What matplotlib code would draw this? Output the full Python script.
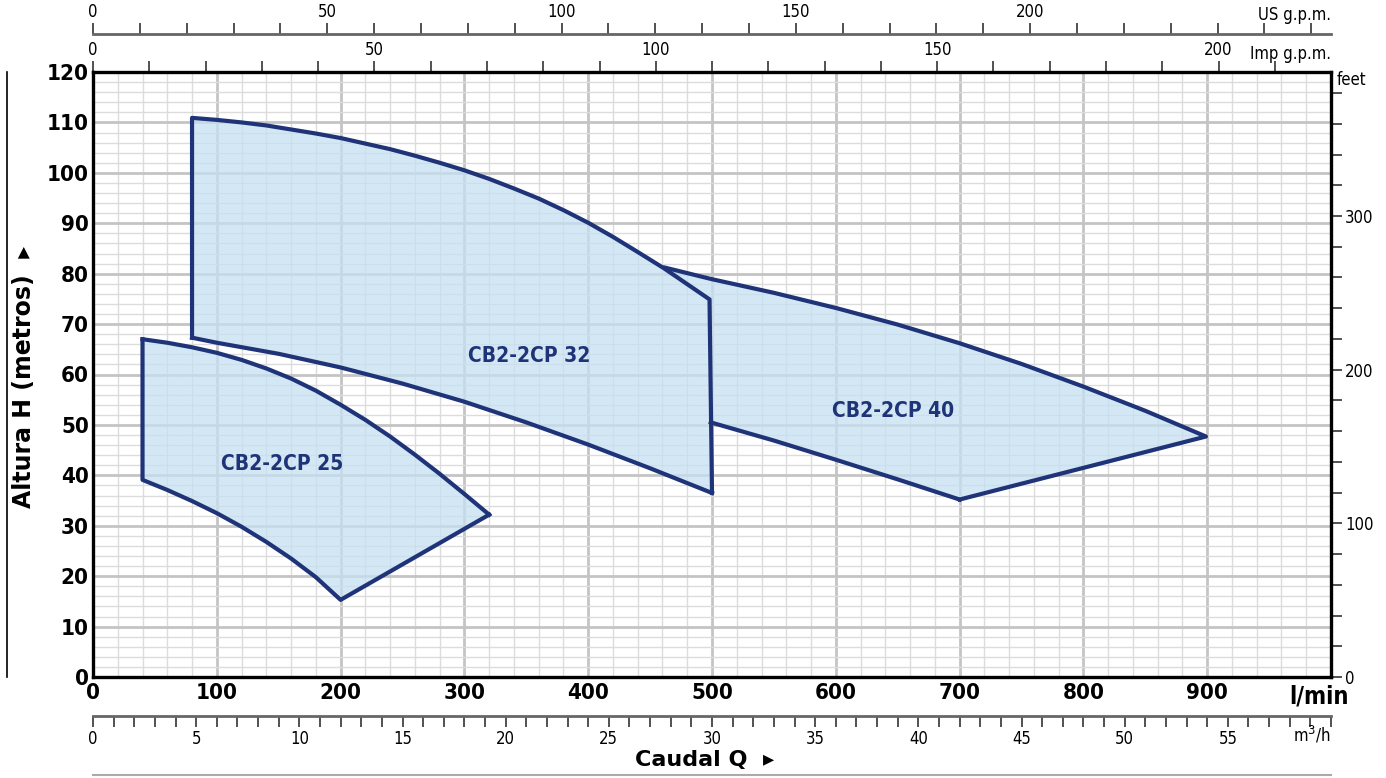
import matplotlib
matplotlib.use("Agg")
import matplotlib.pyplot as plt
import numpy as np

# curve data: flow in l/min, head in metres
cp25_top_q = [40, 60, 80, 100, 120, 140, 160, 180, 200, 220, 240, 260, 280, 300, 320]
cp25_top_h = [67.0, 66.3, 65.4, 64.3, 62.9, 61.2, 59.2, 56.8, 54.0, 51.0, 47.7,
              44.1, 40.3, 36.3, 32.2]
cp25_bot_q = [40, 60, 80, 100, 120, 140, 160, 180, 200]
cp25_bot_h = [39.1, 37.1, 34.9, 32.5, 29.8, 26.8, 23.5, 19.8, 15.3]

cp32_top_q = [80, 100, 120, 140, 160, 180, 200, 220, 240, 260, 280, 300, 320,
              340, 360, 380, 400, 420, 440, 461, 498]
cp32_top_h = [110.9, 110.5, 110.0, 109.4, 108.6, 107.8, 106.9, 105.8, 104.7,
              103.4, 102.0, 100.5, 98.8, 96.9, 94.9, 92.6, 90.1, 87.3, 84.3,
              81.1, 74.9]
cp32_bot_q = [80, 100, 150, 200, 250, 300, 350, 400, 450, 500]
cp32_bot_h = [67.3, 66.3, 64.1, 61.4, 58.2, 54.6, 50.5, 46.1, 41.4, 36.5]

cp40_top_q = [462, 500, 550, 600, 650, 700, 750, 800, 850, 899]
cp40_top_h = [81.2, 78.9, 76.2, 73.2, 69.9, 66.2, 62.1, 57.6, 52.8, 47.7]
cp40_bot_q = [499, 550, 600, 650, 700]
cp40_bot_h = [50.5, 46.9, 43.1, 39.2, 35.2]

labels = ["CB2-2CP 25", "CB2-2CP 32", "CB2-2CP 40"]
label_q = [153, 352, 646]
label_h = [42.2, 63.6, 52.8]

x_ticks = [0, 100, 200, 300, 400, 500, 600, 700, 800, 900]
y_ticks = [0, 10, 20, 30, 40, 50, 60, 70, 80, 90, 100, 110, 120]

US_GPM = 3.785
IMP_GPM = 4.546
M3H = 1000 / 60.0
FT = 0.3048

NAVY = "#1f3478"
FILL = "#c6e0f2"
NARROW = dict(family=["DejaVu Sans"], fontstretch="condensed")
BOLD = dict(family=["DejaVu Sans"], fontweight="bold")

W, H = 1386, 778
fig = plt.figure(figsize=(W / 100, H / 100), dpi=100)


def fx(px):
    return px / W


def fy(py):
    return 1 - py / H


L, R, T, B = 93, 1331, 72, 677
ax = fig.add_axes([fx(L), fy(B), fx(R) - fx(L), fy(T) - fy(B)])
ax.set_xlim(0, 1000)
ax.set_ylim(0, 120)

# grid
ax.set_xticks(np.arange(0, 1001, 100))
ax.set_xticks(np.arange(0, 1001, 20), minor=True)
ax.set_yticks(y_ticks)
ax.set_yticks(np.arange(0, 121, 2), minor=True)
ax.grid(which="minor", color="#dcdcdc", lw=1.0, zorder=0)
ax.grid(which="major", color="#c4c4c4", lw=2.0, zorder=0)
ax.set_axisbelow(True)
ax.tick_params(which="both", length=0)
ax.set_xticklabels([str(v) for v in x_ticks] + [""], fontsize=16,
                   fontweight="bold", **NARROW)
ax.set_yticklabels([str(v) for v in y_ticks], fontsize=16,
                   fontweight="bold", **NARROW)
ax.tick_params(axis="x", pad=4)
ax.tick_params(axis="y", pad=3)
for s in ax.spines.values():
    s.set_linewidth(2.4)
    s.set_color("black")
ax.text(990, -1.4, "l/min", ha="center", va="top", fontsize=17,
        fontweight="bold", **NARROW)

# filled areas
ax.fill(cp25_top_q + cp25_bot_q[::-1], cp25_top_h + cp25_bot_h[::-1],
        color=FILL, alpha=0.75, lw=0, zorder=1)
ax.fill(cp32_top_q + cp32_bot_q[::-1], cp32_top_h + cp32_bot_h[::-1],
        color=FILL, alpha=0.75, lw=0, zorder=1)
ax.fill(cp40_top_q + [cp40_bot_q[-1]] + cp40_bot_q[::-1] + [cp32_top_q[-1]],
        cp40_top_h + [cp40_bot_h[-1]] + cp40_bot_h[::-1] + [cp32_top_h[-1]],
        color=FILL, alpha=0.75, lw=0, zorder=1)

lk = dict(color=NAVY, lw=3.0, solid_joinstyle="round", zorder=3)
ax.plot([cp25_top_q[0]] + cp25_bot_q + [cp25_top_q[-1]],
        [cp25_top_h[0]] + cp25_bot_h + [cp25_top_h[-1]], **lk)
ax.plot(cp25_top_q, cp25_top_h, **lk)
ax.plot([cp32_bot_q[0]] + cp32_top_q + [cp32_bot_q[-1]],
        [cp32_bot_h[0]] + cp32_top_h + [cp32_bot_h[-1]], **lk)
ax.plot(cp32_bot_q, cp32_bot_h, **lk)
ax.plot(cp40_top_q + [cp40_bot_q[-1]], cp40_top_h + [cp40_bot_h[-1]], **lk)
ax.plot(cp40_bot_q, cp40_bot_h, **lk)

for t, q, h in zip(labels, label_q, label_h):
    ax.text(q, h, t, ha="center", va="center", fontsize=15,
            fontweight="bold", color=NAVY, zorder=4, **NARROW)

# Imp g.p.m. on top of the main axes
imp = ax.secondary_xaxis("top", functions=(lambda q: q / IMP_GPM,
                                           lambda g: g * IMP_GPM))
imp.set_xticks(np.arange(0, 201, 50))
imp.set_xticks(np.arange(0, 220, 10), minor=True)
imp.tick_params(which="both", direction="out", length=8, width=1.2,
                color="#333333", pad=1, labelsize=12)
for lab in imp.get_xticklabels():
    lab.set_fontstretch("condensed")
imp.spines["top"].set_visible(False)
fig.text(fx(1331), fy(54), "Imp g.p.m.", ha="right", va="center",
         fontsize=12, **NARROW)

# US g.p.m. line above
us = fig.add_axes([fx(L), fy(34), fx(R) - fx(L), 0.0001])
us.set_xlim(0, 1000 / US_GPM)
for k in ("left", "right", "bottom"):
    us.spines[k].set_visible(False)
us.spines["top"].set_color("#666666")
us.spines["top"].set_linewidth(2)
us.set_yticks([])
us.xaxis.tick_top()
us.set_xticks(np.arange(0, 201, 50))
us.set_xticks(np.arange(0, 261, 10), minor=True)
us.tick_params(which="both", direction="out", length=8, width=1.2,
               color="#333333", pad=1, labelsize=12)
for lab in us.get_xticklabels():
    lab.set_fontstretch("condensed")
fig.text(fx(1331), fy(15), "US g.p.m.", ha="right", va="center",
         fontsize=12, **NARROW)

# feet on the right
ft = ax.secondary_yaxis("right", functions=(lambda m: m / FT,
                                            lambda f: f * FT))
ft.set_yticks([0, 100, 200, 300])
ft.set_yticks(np.arange(0, 394, 20), minor=True)
ft.tick_params(which="both", direction="out", length=8, width=1.2,
               color="#333333", pad=2, labelsize=12)
for lab in ft.get_yticklabels():
    lab.set_fontstretch("condensed")
fig.text(fx(1337), fy(80), "feet", ha="left", va="center", fontsize=12,
         **NARROW)

# m3/h below
m3 = fig.add_axes([fx(L), fy(716), fx(R) - fx(L), 0.0001])
m3.set_xlim(0, 1000 / M3H)
for k in ("left", "right", "top"):
    m3.spines[k].set_visible(False)
m3.spines["bottom"].set_color("#666666")
m3.spines["bottom"].set_linewidth(2)
m3.set_yticks([])
m3.set_xticks(np.arange(0, 56, 5))
m3.set_xticks(np.arange(0, 61, 1), minor=True)
m3.tick_params(which="both", direction="out", length=8, width=1.2,
               color="#333333", pad=2, labelsize=12)
for lab in m3.get_xticklabels():
    lab.set_fontstretch("condensed")
fig.text(fx(1331), fy(735), "m$^3$/h", ha="right", va="center",
         fontsize=12, **NARROW)

# axis titles
fig.text(fx(705), fy(760), "Caudal Q  \u25b8", ha="center", va="center",
         fontsize=16, **BOLD)
fig.text(fx(24), fy(377), "Altura H (metros)  \u25b8", ha="center",
         va="center", rotation=90, fontsize=17, **BOLD)
fig.add_artist(plt.Line2D([fx(7), fx(7)], [fy(72), fy(677)], color="black",
                          lw=1.2))
fig.add_artist(plt.Line2D([fx(L), fx(R)], [fy(775), fy(775)],
                          color="#aaaaaa", lw=1.5))

fig.savefig("out.png", dpi=100)
